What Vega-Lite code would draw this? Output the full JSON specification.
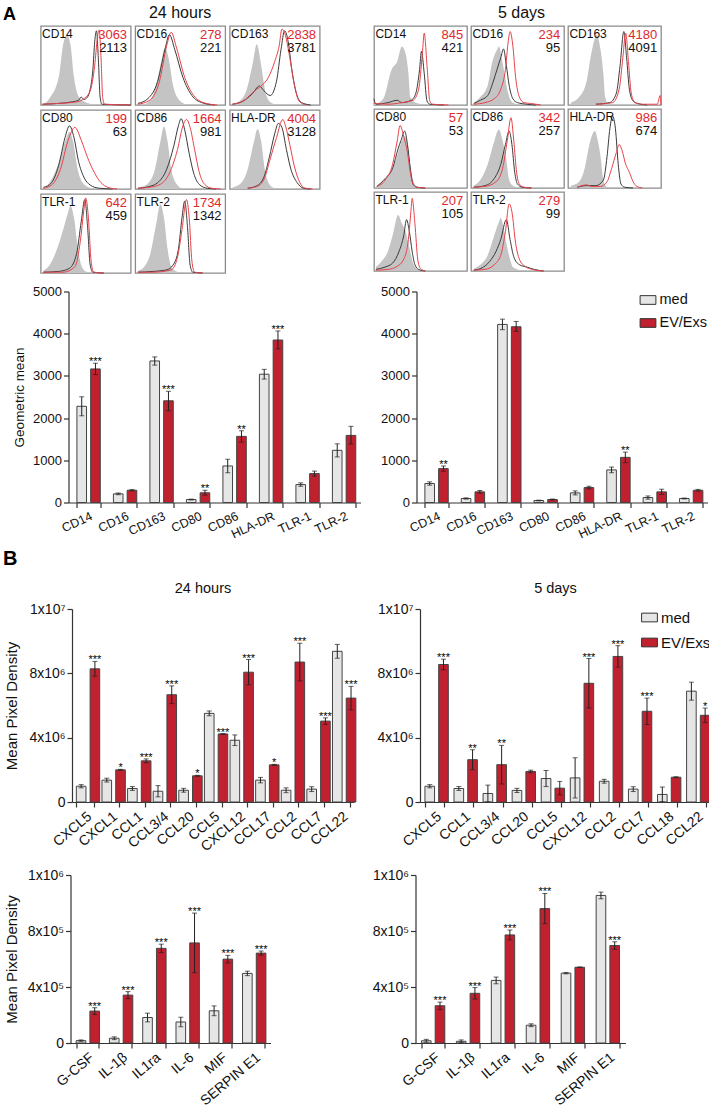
{
"$schema": "https://vega.github.io/schema/vega-lite/v6.json",
"background": "white",
"padding": {"left": 3, "top": 5, "right": 0, "bottom": 0},
"config": {
 "font": "Liberation Sans",
 "view": {"stroke": null},
 "title": {"fontWeight": "normal", "color": "#111"},
 "headerFacet": {"labels": false, "title": null, "labelPadding": 0, "titlePadding": 0},
 "axis": {"grid": false, "domainColor": "#333", "tickColor": "#333", "labelColor": "#111", "titleColor": "#111", "titleFontWeight": "normal", "tickSize": 5, "labelPadding": 2, "domainWidth": 1.2, "tickWidth": 1.2},
 "legend": {"title": null, "orient": "top-right", "offset": 0, "symbolType": "M-1,-0.55H1V0.55H-1Z", "symbolSize": 250, "symbolStrokeColor": "#333", "symbolStrokeWidth": 1, "labelFontSize": 14.5, "rowPadding": 8, "labelOffset": 3, "labelColor": "#111"}
},
"datasets": {
 "hist": [
{"t":"24h","m":"CD14","s":"lab","r":"3063","b":"2113"},
{"t":"24h","m":"CD16","s":"lab","r":"278","b":"221"},
{"t":"24h","m":"CD163","s":"lab","r":"2838","b":"3781"},
{"t":"24h","m":"CD80","s":"lab","r":"199","b":"63"},
{"t":"24h","m":"CD86","s":"lab","r":"1664","b":"981"},
{"t":"24h","m":"HLA-DR","s":"lab","r":"4004","b":"3128"},
{"t":"24h","m":"TLR-1","s":"lab","r":"642","b":"459"},
{"t":"24h","m":"TLR-2","s":"lab","r":"1734","b":"1342"},
{"t":"5d","m":"CD14","s":"lab","r":"845","b":"421"},
{"t":"5d","m":"CD16","s":"lab","r":"234","b":"95"},
{"t":"5d","m":"CD163","s":"lab","r":"4180","b":"4091"},
{"t":"5d","m":"CD80","s":"lab","r":"57","b":"53"},
{"t":"5d","m":"CD86","s":"lab","r":"342","b":"257"},
{"t":"5d","m":"HLA-DR","s":"lab","r":"986","b":"674"},
{"t":"5d","m":"TLR-1","s":"lab","r":"207","b":"105"},
{"t":"5d","m":"TLR-2","s":"lab","r":"279","b":"99"},
{"t":"24h","m":"CD14","s":"i","x":0,"y":0},{"t":"24h","m":"CD14","s":"i","x":3,"y":1},{"t":"24h","m":"CD14","s":"i","x":10,"y":9},{"t":"24h","m":"CD14","s":"i","x":20,"y":35},{"t":"24h","m":"CD14","s":"i","x":25,"y":77},{"t":"24h","m":"CD14","s":"i","x":29,"y":89},{"t":"24h","m":"CD14","s":"i","x":33,"y":77},{"t":"24h","m":"CD14","s":"i","x":37,"y":35},{"t":"24h","m":"CD14","s":"i","x":42,"y":11},{"t":"24h","m":"CD14","s":"i","x":51,"y":3},{"t":"24h","m":"CD14","s":"i","x":66,"y":0},
{"t":"24h","m":"CD14","s":"k","x":2,"y":1},{"t":"24h","m":"CD14","s":"k","x":20,"y":2},{"t":"24h","m":"CD14","s":"k","x":35,"y":4},{"t":"24h","m":"CD14","s":"k","x":42,"y":6},{"t":"24h","m":"CD14","s":"k","x":45,"y":10},{"t":"24h","m":"CD14","s":"k","x":48,"y":7},{"t":"24h","m":"CD14","s":"k","x":52,"y":10},{"t":"24h","m":"CD14","s":"k","x":55,"y":20},{"t":"24h","m":"CD14","s":"k","x":58,"y":45},{"t":"24h","m":"CD14","s":"k","x":60,"y":80},{"t":"24h","m":"CD14","s":"k","x":62,"y":94},{"t":"24h","m":"CD14","s":"k","x":64,"y":60},{"t":"24h","m":"CD14","s":"k","x":66,"y":10},{"t":"24h","m":"CD14","s":"k","x":68,"y":1},{"t":"24h","m":"CD14","s":"k","x":100,"y":0},
{"t":"24h","m":"CD14","s":"r","x":2,"y":1},{"t":"24h","m":"CD14","s":"r","x":20,"y":2},{"t":"24h","m":"CD14","s":"r","x":40,"y":4},{"t":"24h","m":"CD14","s":"r","x":48,"y":8},{"t":"24h","m":"CD14","s":"r","x":55,"y":18},{"t":"24h","m":"CD14","s":"r","x":60,"y":50},{"t":"24h","m":"CD14","s":"r","x":63,"y":85},{"t":"24h","m":"CD14","s":"r","x":65,"y":95},{"t":"24h","m":"CD14","s":"r","x":67,"y":60},{"t":"24h","m":"CD14","s":"r","x":69,"y":8},{"t":"24h","m":"CD14","s":"r","x":71,"y":1},{"t":"24h","m":"CD14","s":"r","x":100,"y":0},
{"t":"24h","m":"CD16","s":"i","x":7,"y":0},{"t":"24h","m":"CD16","s":"i","x":15,"y":4},{"t":"24h","m":"CD16","s":"i","x":22,"y":20},{"t":"24h","m":"CD16","s":"i","x":29,"y":55},{"t":"24h","m":"CD16","s":"i","x":33,"y":73},{"t":"24h","m":"CD16","s":"i","x":37,"y":60},{"t":"24h","m":"CD16","s":"i","x":42,"y":25},{"t":"24h","m":"CD16","s":"i","x":50,"y":5},{"t":"24h","m":"CD16","s":"i","x":59,"y":0},
{"t":"24h","m":"CD16","s":"k","x":3,"y":2},{"t":"24h","m":"CD16","s":"k","x":14,"y":8},{"t":"24h","m":"CD16","s":"k","x":25,"y":30},{"t":"24h","m":"CD16","s":"k","x":33,"y":70},{"t":"24h","m":"CD16","s":"k","x":38,"y":89},{"t":"24h","m":"CD16","s":"k","x":44,"y":70},{"t":"24h","m":"CD16","s":"k","x":53,"y":35},{"t":"24h","m":"CD16","s":"k","x":63,"y":12},{"t":"24h","m":"CD16","s":"k","x":74,"y":3},{"t":"24h","m":"CD16","s":"k","x":88,"y":0},
{"t":"24h","m":"CD16","s":"r","x":3,"y":1},{"t":"24h","m":"CD16","s":"r","x":16,"y":6},{"t":"24h","m":"CD16","s":"r","x":27,"y":30},{"t":"24h","m":"CD16","s":"r","x":35,"y":75},{"t":"24h","m":"CD16","s":"r","x":40,"y":92},{"t":"24h","m":"CD16","s":"r","x":46,"y":72},{"t":"24h","m":"CD16","s":"r","x":55,"y":35},{"t":"24h","m":"CD16","s":"r","x":65,"y":12},{"t":"24h","m":"CD16","s":"r","x":76,"y":3},{"t":"24h","m":"CD16","s":"r","x":91,"y":0},
{"t":"24h","m":"CD163","s":"i","x":4,"y":2},{"t":"24h","m":"CD163","s":"i","x":12,"y":6},{"t":"24h","m":"CD163","s":"i","x":19,"y":20},{"t":"24h","m":"CD163","s":"i","x":26,"y":55},{"t":"24h","m":"CD163","s":"i","x":30,"y":77},{"t":"24h","m":"CD163","s":"i","x":35,"y":50},{"t":"24h","m":"CD163","s":"i","x":40,"y":15},{"t":"24h","m":"CD163","s":"i","x":46,"y":3},{"t":"24h","m":"CD163","s":"i","x":55,"y":0},
{"t":"24h","m":"CD163","s":"k","x":3,"y":1},{"t":"24h","m":"CD163","s":"k","x":15,"y":5},{"t":"24h","m":"CD163","s":"k","x":25,"y":14},{"t":"24h","m":"CD163","s":"k","x":33,"y":24},{"t":"24h","m":"CD163","s":"k","x":38,"y":18},{"t":"24h","m":"CD163","s":"k","x":45,"y":12},{"t":"24h","m":"CD163","s":"k","x":52,"y":30},{"t":"24h","m":"CD163","s":"k","x":57,"y":70},{"t":"24h","m":"CD163","s":"k","x":61,"y":94},{"t":"24h","m":"CD163","s":"k","x":65,"y":80},{"t":"24h","m":"CD163","s":"k","x":69,"y":45},{"t":"24h","m":"CD163","s":"k","x":74,"y":15},{"t":"24h","m":"CD163","s":"k","x":80,"y":3},{"t":"24h","m":"CD163","s":"k","x":90,"y":0},
{"t":"24h","m":"CD163","s":"r","x":3,"y":1},{"t":"24h","m":"CD163","s":"r","x":15,"y":5},{"t":"24h","m":"CD163","s":"r","x":25,"y":15},{"t":"24h","m":"CD163","s":"r","x":30,"y":20},{"t":"24h","m":"CD163","s":"r","x":36,"y":25},{"t":"24h","m":"CD163","s":"r","x":43,"y":35},{"t":"24h","m":"CD163","s":"r","x":50,"y":55},{"t":"24h","m":"CD163","s":"r","x":55,"y":75},{"t":"24h","m":"CD163","s":"r","x":58,"y":96},{"t":"24h","m":"CD163","s":"r","x":62,"y":88},{"t":"24h","m":"CD163","s":"r","x":66,"y":65},{"t":"24h","m":"CD163","s":"r","x":72,"y":25},{"t":"24h","m":"CD163","s":"r","x":77,"y":5},{"t":"24h","m":"CD163","s":"r","x":85,"y":0},
{"t":"24h","m":"CD80","s":"i","x":3,"y":0},{"t":"24h","m":"CD80","s":"i","x":8,"y":5},{"t":"24h","m":"CD80","s":"i","x":19,"y":30},{"t":"24h","m":"CD80","s":"i","x":27,"y":60},{"t":"24h","m":"CD80","s":"i","x":32,"y":72},{"t":"24h","m":"CD80","s":"i","x":36,"y":60},{"t":"24h","m":"CD80","s":"i","x":41,"y":25},{"t":"24h","m":"CD80","s":"i","x":49,"y":5},{"t":"24h","m":"CD80","s":"i","x":60,"y":0},
{"t":"24h","m":"CD80","s":"k","x":3,"y":2},{"t":"24h","m":"CD80","s":"k","x":12,"y":8},{"t":"24h","m":"CD80","s":"k","x":20,"y":30},{"t":"24h","m":"CD80","s":"k","x":27,"y":65},{"t":"24h","m":"CD80","s":"k","x":32,"y":80},{"t":"24h","m":"CD80","s":"k","x":37,"y":65},{"t":"24h","m":"CD80","s":"k","x":42,"y":35},{"t":"24h","m":"CD80","s":"k","x":48,"y":15},{"t":"24h","m":"CD80","s":"k","x":55,"y":5},{"t":"24h","m":"CD80","s":"k","x":65,"y":1},{"t":"24h","m":"CD80","s":"k","x":80,"y":0},
{"t":"24h","m":"CD80","s":"r","x":3,"y":1},{"t":"24h","m":"CD80","s":"r","x":12,"y":5},{"t":"24h","m":"CD80","s":"r","x":22,"y":25},{"t":"24h","m":"CD80","s":"r","x":30,"y":60},{"t":"24h","m":"CD80","s":"r","x":38,"y":78},{"t":"24h","m":"CD80","s":"r","x":45,"y":62},{"t":"24h","m":"CD80","s":"r","x":52,"y":40},{"t":"24h","m":"CD80","s":"r","x":60,"y":20},{"t":"24h","m":"CD80","s":"r","x":67,"y":8},{"t":"24h","m":"CD80","s":"r","x":75,"y":2},{"t":"24h","m":"CD80","s":"r","x":85,"y":0},
{"t":"24h","m":"CD86","s":"i","x":5,"y":2},{"t":"24h","m":"CD86","s":"i","x":15,"y":8},{"t":"24h","m":"CD86","s":"i","x":22,"y":25},{"t":"24h","m":"CD86","s":"i","x":28,"y":60},{"t":"24h","m":"CD86","s":"i","x":32,"y":79},{"t":"24h","m":"CD86","s":"i","x":36,"y":60},{"t":"24h","m":"CD86","s":"i","x":40,"y":25},{"t":"24h","m":"CD86","s":"i","x":45,"y":8},{"t":"24h","m":"CD86","s":"i","x":52,"y":1},{"t":"24h","m":"CD86","s":"i","x":60,"y":0},
{"t":"24h","m":"CD86","s":"k","x":3,"y":1},{"t":"24h","m":"CD86","s":"k","x":15,"y":3},{"t":"24h","m":"CD86","s":"k","x":25,"y":8},{"t":"24h","m":"CD86","s":"k","x":35,"y":25},{"t":"24h","m":"CD86","s":"k","x":43,"y":55},{"t":"24h","m":"CD86","s":"k","x":48,"y":80},{"t":"24h","m":"CD86","s":"k","x":51,"y":89},{"t":"24h","m":"CD86","s":"k","x":55,"y":75},{"t":"24h","m":"CD86","s":"k","x":60,"y":45},{"t":"24h","m":"CD86","s":"k","x":65,"y":20},{"t":"24h","m":"CD86","s":"k","x":72,"y":5},{"t":"24h","m":"CD86","s":"k","x":80,"y":1},{"t":"24h","m":"CD86","s":"k","x":90,"y":0},
{"t":"24h","m":"CD86","s":"r","x":3,"y":1},{"t":"24h","m":"CD86","s":"r","x":15,"y":2},{"t":"24h","m":"CD86","s":"r","x":28,"y":6},{"t":"24h","m":"CD86","s":"r","x":38,"y":20},{"t":"24h","m":"CD86","s":"r","x":47,"y":50},{"t":"24h","m":"CD86","s":"r","x":53,"y":80},{"t":"24h","m":"CD86","s":"r","x":57,"y":88},{"t":"24h","m":"CD86","s":"r","x":61,"y":78},{"t":"24h","m":"CD86","s":"r","x":66,"y":50},{"t":"24h","m":"CD86","s":"r","x":71,"y":22},{"t":"24h","m":"CD86","s":"r","x":77,"y":6},{"t":"24h","m":"CD86","s":"r","x":85,"y":1},{"t":"24h","m":"CD86","s":"r","x":95,"y":0},
{"t":"24h","m":"HLA-DR","s":"i","x":3,"y":2},{"t":"24h","m":"HLA-DR","s":"i","x":13,"y":8},{"t":"24h","m":"HLA-DR","s":"i","x":20,"y":25},{"t":"24h","m":"HLA-DR","s":"i","x":27,"y":60},{"t":"24h","m":"HLA-DR","s":"i","x":31,"y":76},{"t":"24h","m":"HLA-DR","s":"i","x":35,"y":60},{"t":"24h","m":"HLA-DR","s":"i","x":39,"y":25},{"t":"24h","m":"HLA-DR","s":"i","x":44,"y":6},{"t":"24h","m":"HLA-DR","s":"i","x":50,"y":1},{"t":"24h","m":"HLA-DR","s":"i","x":58,"y":0},
{"t":"24h","m":"HLA-DR","s":"k","x":20,"y":1},{"t":"24h","m":"HLA-DR","s":"k","x":30,"y":4},{"t":"24h","m":"HLA-DR","s":"k","x":38,"y":15},{"t":"24h","m":"HLA-DR","s":"k","x":44,"y":40},{"t":"24h","m":"HLA-DR","s":"k","x":50,"y":70},{"t":"24h","m":"HLA-DR","s":"k","x":54,"y":83},{"t":"24h","m":"HLA-DR","s":"k","x":58,"y":78},{"t":"24h","m":"HLA-DR","s":"k","x":63,"y":50},{"t":"24h","m":"HLA-DR","s":"k","x":68,"y":25},{"t":"24h","m":"HLA-DR","s":"k","x":75,"y":8},{"t":"24h","m":"HLA-DR","s":"k","x":82,"y":1},{"t":"24h","m":"HLA-DR","s":"k","x":90,"y":0},
{"t":"24h","m":"HLA-DR","s":"r","x":20,"y":1},{"t":"24h","m":"HLA-DR","s":"r","x":30,"y":3},{"t":"24h","m":"HLA-DR","s":"r","x":38,"y":12},{"t":"24h","m":"HLA-DR","s":"r","x":45,"y":38},{"t":"24h","m":"HLA-DR","s":"r","x":52,"y":65},{"t":"24h","m":"HLA-DR","s":"r","x":59,"y":88},{"t":"24h","m":"HLA-DR","s":"r","x":62,"y":80},{"t":"24h","m":"HLA-DR","s":"r","x":67,"y":55},{"t":"24h","m":"HLA-DR","s":"r","x":72,"y":28},{"t":"24h","m":"HLA-DR","s":"r","x":78,"y":8},{"t":"24h","m":"HLA-DR","s":"r","x":84,"y":1},{"t":"24h","m":"HLA-DR","s":"r","x":92,"y":0},
{"t":"24h","m":"TLR-1","s":"i","x":3,"y":3},{"t":"24h","m":"TLR-1","s":"i","x":10,"y":10},{"t":"24h","m":"TLR-1","s":"i","x":18,"y":30},{"t":"24h","m":"TLR-1","s":"i","x":25,"y":55},{"t":"24h","m":"TLR-1","s":"i","x":30,"y":75},{"t":"24h","m":"TLR-1","s":"i","x":33,"y":85},{"t":"24h","m":"TLR-1","s":"i","x":37,"y":70},{"t":"24h","m":"TLR-1","s":"i","x":41,"y":35},{"t":"24h","m":"TLR-1","s":"i","x":45,"y":10},{"t":"24h","m":"TLR-1","s":"i","x":50,"y":2},{"t":"24h","m":"TLR-1","s":"i","x":58,"y":0},
{"t":"24h","m":"TLR-1","s":"k","x":3,"y":1},{"t":"24h","m":"TLR-1","s":"k","x":20,"y":2},{"t":"24h","m":"TLR-1","s":"k","x":32,"y":6},{"t":"24h","m":"TLR-1","s":"k","x":40,"y":25},{"t":"24h","m":"TLR-1","s":"k","x":45,"y":65},{"t":"24h","m":"TLR-1","s":"k","x":49,"y":93},{"t":"24h","m":"TLR-1","s":"k","x":52,"y":60},{"t":"24h","m":"TLR-1","s":"k","x":55,"y":10},{"t":"24h","m":"TLR-1","s":"k","x":58,"y":1},{"t":"24h","m":"TLR-1","s":"k","x":70,"y":0},
{"t":"24h","m":"TLR-1","s":"r","x":3,"y":1},{"t":"24h","m":"TLR-1","s":"r","x":25,"y":1},{"t":"24h","m":"TLR-1","s":"r","x":38,"y":8},{"t":"24h","m":"TLR-1","s":"r","x":44,"y":40},{"t":"24h","m":"TLR-1","s":"r","x":48,"y":80},{"t":"24h","m":"TLR-1","s":"r","x":50,"y":95},{"t":"24h","m":"TLR-1","s":"r","x":53,"y":70},{"t":"24h","m":"TLR-1","s":"r","x":56,"y":15},{"t":"24h","m":"TLR-1","s":"r","x":59,"y":1},{"t":"24h","m":"TLR-1","s":"r","x":70,"y":0},
{"t":"24h","m":"TLR-2","s":"i","x":3,"y":3},{"t":"24h","m":"TLR-2","s":"i","x":10,"y":8},{"t":"24h","m":"TLR-2","s":"i","x":17,"y":25},{"t":"24h","m":"TLR-2","s":"i","x":23,"y":60},{"t":"24h","m":"TLR-2","s":"i","x":28,"y":87},{"t":"24h","m":"TLR-2","s":"i","x":32,"y":70},{"t":"24h","m":"TLR-2","s":"i","x":36,"y":30},{"t":"24h","m":"TLR-2","s":"i","x":40,"y":8},{"t":"24h","m":"TLR-2","s":"i","x":46,"y":2},{"t":"24h","m":"TLR-2","s":"i","x":55,"y":0},
{"t":"24h","m":"TLR-2","s":"k","x":3,"y":1},{"t":"24h","m":"TLR-2","s":"k","x":20,"y":2},{"t":"24h","m":"TLR-2","s":"k","x":35,"y":4},{"t":"24h","m":"TLR-2","s":"k","x":42,"y":10},{"t":"24h","m":"TLR-2","s":"k","x":48,"y":30},{"t":"24h","m":"TLR-2","s":"k","x":52,"y":70},{"t":"24h","m":"TLR-2","s":"k","x":55,"y":91},{"t":"24h","m":"TLR-2","s":"k","x":58,"y":60},{"t":"24h","m":"TLR-2","s":"k","x":61,"y":10},{"t":"24h","m":"TLR-2","s":"k","x":64,"y":1},{"t":"24h","m":"TLR-2","s":"k","x":75,"y":0},
{"t":"24h","m":"TLR-2","s":"r","x":3,"y":1},{"t":"24h","m":"TLR-2","s":"r","x":20,"y":1},{"t":"24h","m":"TLR-2","s":"r","x":40,"y":4},{"t":"24h","m":"TLR-2","s":"r","x":47,"y":20},{"t":"24h","m":"TLR-2","s":"r","x":52,"y":55},{"t":"24h","m":"TLR-2","s":"r","x":57,"y":93},{"t":"24h","m":"TLR-2","s":"r","x":60,"y":70},{"t":"24h","m":"TLR-2","s":"r","x":63,"y":15},{"t":"24h","m":"TLR-2","s":"r","x":66,"y":1},{"t":"24h","m":"TLR-2","s":"r","x":75,"y":0},
{"t":"5d","m":"CD14","s":"i","x":0,"y":10},{"t":"5d","m":"CD14","s":"i","x":2,"y":2},{"t":"5d","m":"CD14","s":"i","x":10,"y":8},{"t":"5d","m":"CD14","s":"i","x":19,"y":45},{"t":"5d","m":"CD14","s":"i","x":25,"y":55},{"t":"5d","m":"CD14","s":"i","x":30,"y":74},{"t":"5d","m":"CD14","s":"i","x":34,"y":65},{"t":"5d","m":"CD14","s":"i","x":37,"y":40},{"t":"5d","m":"CD14","s":"i","x":39,"y":10},{"t":"5d","m":"CD14","s":"i","x":45,"y":3},{"t":"5d","m":"CD14","s":"i","x":60,"y":0},
{"t":"5d","m":"CD14","s":"k","x":0,"y":8},{"t":"5d","m":"CD14","s":"k","x":2,"y":1},{"t":"5d","m":"CD14","s":"k","x":15,"y":3},{"t":"5d","m":"CD14","s":"k","x":25,"y":6},{"t":"5d","m":"CD14","s":"k","x":30,"y":3},{"t":"5d","m":"CD14","s":"k","x":40,"y":6},{"t":"5d","m":"CD14","s":"k","x":45,"y":15},{"t":"5d","m":"CD14","s":"k","x":49,"y":45},{"t":"5d","m":"CD14","s":"k","x":51,"y":68},{"t":"5d","m":"CD14","s":"k","x":54,"y":40},{"t":"5d","m":"CD14","s":"k","x":57,"y":5},{"t":"5d","m":"CD14","s":"k","x":60,"y":1},{"t":"5d","m":"CD14","s":"k","x":75,"y":0},
{"t":"5d","m":"CD14","s":"r","x":0,"y":2},{"t":"5d","m":"CD14","s":"r","x":15,"y":1},{"t":"5d","m":"CD14","s":"r","x":30,"y":3},{"t":"5d","m":"CD14","s":"r","x":42,"y":6},{"t":"5d","m":"CD14","s":"r","x":48,"y":20},{"t":"5d","m":"CD14","s":"r","x":52,"y":65},{"t":"5d","m":"CD14","s":"r","x":54,"y":91},{"t":"5d","m":"CD14","s":"r","x":57,"y":50},{"t":"5d","m":"CD14","s":"r","x":60,"y":5},{"t":"5d","m":"CD14","s":"r","x":63,"y":1},{"t":"5d","m":"CD14","s":"r","x":80,"y":0},
{"t":"5d","m":"CD16","s":"i","x":3,"y":3},{"t":"5d","m":"CD16","s":"i","x":10,"y":10},{"t":"5d","m":"CD16","s":"i","x":18,"y":25},{"t":"5d","m":"CD16","s":"i","x":23,"y":55},{"t":"5d","m":"CD16","s":"i","x":28,"y":70},{"t":"5d","m":"CD16","s":"i","x":30,"y":74},{"t":"5d","m":"CD16","s":"i","x":33,"y":60},{"t":"5d","m":"CD16","s":"i","x":36,"y":40},{"t":"5d","m":"CD16","s":"i","x":40,"y":15},{"t":"5d","m":"CD16","s":"i","x":45,"y":3},{"t":"5d","m":"CD16","s":"i","x":55,"y":0},
{"t":"5d","m":"CD16","s":"k","x":3,"y":2},{"t":"5d","m":"CD16","s":"k","x":10,"y":6},{"t":"5d","m":"CD16","s":"k","x":18,"y":12},{"t":"5d","m":"CD16","s":"k","x":24,"y":30},{"t":"5d","m":"CD16","s":"k","x":28,"y":45},{"t":"5d","m":"CD16","s":"k","x":32,"y":60},{"t":"5d","m":"CD16","s":"k","x":35,"y":71},{"t":"5d","m":"CD16","s":"k","x":38,"y":50},{"t":"5d","m":"CD16","s":"k","x":41,"y":25},{"t":"5d","m":"CD16","s":"k","x":45,"y":8},{"t":"5d","m":"CD16","s":"k","x":50,"y":3},{"t":"5d","m":"CD16","s":"k","x":60,"y":1},{"t":"5d","m":"CD16","s":"k","x":70,"y":0},
{"t":"5d","m":"CD16","s":"r","x":3,"y":1},{"t":"5d","m":"CD16","s":"r","x":15,"y":3},{"t":"5d","m":"CD16","s":"r","x":25,"y":8},{"t":"5d","m":"CD16","s":"r","x":32,"y":20},{"t":"5d","m":"CD16","s":"r","x":37,"y":45},{"t":"5d","m":"CD16","s":"r","x":40,"y":80},{"t":"5d","m":"CD16","s":"r","x":42,"y":93},{"t":"5d","m":"CD16","s":"r","x":45,"y":75},{"t":"5d","m":"CD16","s":"r","x":48,"y":35},{"t":"5d","m":"CD16","s":"r","x":52,"y":10},{"t":"5d","m":"CD16","s":"r","x":57,"y":3},{"t":"5d","m":"CD16","s":"r","x":64,"y":2},{"t":"5d","m":"CD16","s":"r","x":75,"y":0},
{"t":"5d","m":"CD163","s":"i","x":3,"y":3},{"t":"5d","m":"CD163","s":"i","x":12,"y":10},{"t":"5d","m":"CD163","s":"i","x":20,"y":30},{"t":"5d","m":"CD163","s":"i","x":25,"y":65},{"t":"5d","m":"CD163","s":"i","x":31,"y":89},{"t":"5d","m":"CD163","s":"i","x":35,"y":70},{"t":"5d","m":"CD163","s":"i","x":38,"y":40},{"t":"5d","m":"CD163","s":"i","x":40,"y":10},{"t":"5d","m":"CD163","s":"i","x":43,"y":2},{"t":"5d","m":"CD163","s":"i","x":50,"y":0},
{"t":"5d","m":"CD163","s":"k","x":30,"y":1},{"t":"5d","m":"CD163","s":"k","x":45,"y":3},{"t":"5d","m":"CD163","s":"k","x":52,"y":15},{"t":"5d","m":"CD163","s":"k","x":56,"y":50},{"t":"5d","m":"CD163","s":"k","x":60,"y":93},{"t":"5d","m":"CD163","s":"k","x":63,"y":60},{"t":"5d","m":"CD163","s":"k","x":66,"y":20},{"t":"5d","m":"CD163","s":"k","x":70,"y":5},{"t":"5d","m":"CD163","s":"k","x":75,"y":2},{"t":"5d","m":"CD163","s":"k","x":85,"y":0},
{"t":"5d","m":"CD163","s":"r","x":30,"y":1},{"t":"5d","m":"CD163","s":"r","x":48,"y":3},{"t":"5d","m":"CD163","s":"r","x":55,"y":20},{"t":"5d","m":"CD163","s":"r","x":59,"y":60},{"t":"5d","m":"CD163","s":"r","x":62,"y":91},{"t":"5d","m":"CD163","s":"r","x":65,"y":55},{"t":"5d","m":"CD163","s":"r","x":68,"y":15},{"t":"5d","m":"CD163","s":"r","x":72,"y":3},{"t":"5d","m":"CD163","s":"r","x":80,"y":1},{"t":"5d","m":"CD163","s":"r","x":96,"y":1},{"t":"5d","m":"CD163","s":"r","x":99,"y":12},{"t":"5d","m":"CD163","s":"r","x":100,"y":0},
{"t":"5d","m":"CD80","s":"i","x":3,"y":3},{"t":"5d","m":"CD80","s":"i","x":12,"y":10},{"t":"5d","m":"CD80","s":"i","x":20,"y":25},{"t":"5d","m":"CD80","s":"i","x":26,"y":45},{"t":"5d","m":"CD80","s":"i","x":30,"y":60},{"t":"5d","m":"CD80","s":"i","x":33,"y":66},{"t":"5d","m":"CD80","s":"i","x":36,"y":55},{"t":"5d","m":"CD80","s":"i","x":39,"y":30},{"t":"5d","m":"CD80","s":"i","x":42,"y":10},{"t":"5d","m":"CD80","s":"i","x":46,"y":2},{"t":"5d","m":"CD80","s":"i","x":55,"y":0},
{"t":"5d","m":"CD80","s":"k","x":3,"y":2},{"t":"5d","m":"CD80","s":"k","x":12,"y":12},{"t":"5d","m":"CD80","s":"k","x":20,"y":25},{"t":"5d","m":"CD80","s":"k","x":26,"y":50},{"t":"5d","m":"CD80","s":"k","x":29,"y":60},{"t":"5d","m":"CD80","s":"k","x":33,"y":72},{"t":"5d","m":"CD80","s":"k","x":36,"y":55},{"t":"5d","m":"CD80","s":"k","x":39,"y":25},{"t":"5d","m":"CD80","s":"k","x":42,"y":5},{"t":"5d","m":"CD80","s":"k","x":46,"y":1},{"t":"5d","m":"CD80","s":"k","x":55,"y":0},
{"t":"5d","m":"CD80","s":"r","x":3,"y":2},{"t":"5d","m":"CD80","s":"r","x":12,"y":10},{"t":"5d","m":"CD80","s":"r","x":20,"y":30},{"t":"5d","m":"CD80","s":"r","x":25,"y":60},{"t":"5d","m":"CD80","s":"r","x":28,"y":79},{"t":"5d","m":"CD80","s":"r","x":32,"y":65},{"t":"5d","m":"CD80","s":"r","x":36,"y":45},{"t":"5d","m":"CD80","s":"r","x":39,"y":20},{"t":"5d","m":"CD80","s":"r","x":42,"y":5},{"t":"5d","m":"CD80","s":"r","x":46,"y":1},{"t":"5d","m":"CD80","s":"r","x":55,"y":0},
{"t":"5d","m":"CD86","s":"i","x":3,"y":3},{"t":"5d","m":"CD86","s":"i","x":10,"y":10},{"t":"5d","m":"CD86","s":"i","x":18,"y":30},{"t":"5d","m":"CD86","s":"i","x":24,"y":55},{"t":"5d","m":"CD86","s":"i","x":30,"y":74},{"t":"5d","m":"CD86","s":"i","x":34,"y":60},{"t":"5d","m":"CD86","s":"i","x":38,"y":35},{"t":"5d","m":"CD86","s":"i","x":41,"y":10},{"t":"5d","m":"CD86","s":"i","x":45,"y":3},{"t":"5d","m":"CD86","s":"i","x":55,"y":0},
{"t":"5d","m":"CD86","s":"k","x":3,"y":1},{"t":"5d","m":"CD86","s":"k","x":15,"y":3},{"t":"5d","m":"CD86","s":"k","x":25,"y":12},{"t":"5d","m":"CD86","s":"k","x":32,"y":30},{"t":"5d","m":"CD86","s":"k","x":37,"y":55},{"t":"5d","m":"CD86","s":"k","x":41,"y":72},{"t":"5d","m":"CD86","s":"k","x":44,"y":55},{"t":"5d","m":"CD86","s":"k","x":47,"y":20},{"t":"5d","m":"CD86","s":"k","x":50,"y":5},{"t":"5d","m":"CD86","s":"k","x":55,"y":1},{"t":"5d","m":"CD86","s":"k","x":65,"y":0},
{"t":"5d","m":"CD86","s":"r","x":3,"y":1},{"t":"5d","m":"CD86","s":"r","x":15,"y":2},{"t":"5d","m":"CD86","s":"r","x":27,"y":8},{"t":"5d","m":"CD86","s":"r","x":34,"y":25},{"t":"5d","m":"CD86","s":"r","x":39,"y":60},{"t":"5d","m":"CD86","s":"r","x":43,"y":89},{"t":"5d","m":"CD86","s":"r","x":46,"y":60},{"t":"5d","m":"CD86","s":"r","x":49,"y":20},{"t":"5d","m":"CD86","s":"r","x":52,"y":5},{"t":"5d","m":"CD86","s":"r","x":57,"y":1},{"t":"5d","m":"CD86","s":"r","x":65,"y":0},
{"t":"5d","m":"HLA-DR","s":"i","x":3,"y":3},{"t":"5d","m":"HLA-DR","s":"i","x":12,"y":8},{"t":"5d","m":"HLA-DR","s":"i","x":18,"y":25},{"t":"5d","m":"HLA-DR","s":"i","x":23,"y":55},{"t":"5d","m":"HLA-DR","s":"i","x":29,"y":72},{"t":"5d","m":"HLA-DR","s":"i","x":32,"y":60},{"t":"5d","m":"HLA-DR","s":"i","x":35,"y":40},{"t":"5d","m":"HLA-DR","s":"i","x":38,"y":10},{"t":"5d","m":"HLA-DR","s":"i","x":41,"y":2},{"t":"5d","m":"HLA-DR","s":"i","x":50,"y":0},
{"t":"5d","m":"HLA-DR","s":"k","x":10,"y":1},{"t":"5d","m":"HLA-DR","s":"k","x":20,"y":3},{"t":"5d","m":"HLA-DR","s":"k","x":30,"y":3},{"t":"5d","m":"HLA-DR","s":"k","x":38,"y":10},{"t":"5d","m":"HLA-DR","s":"k","x":42,"y":40},{"t":"5d","m":"HLA-DR","s":"k","x":45,"y":75},{"t":"5d","m":"HLA-DR","s":"k","x":48,"y":91},{"t":"5d","m":"HLA-DR","s":"k","x":51,"y":75},{"t":"5d","m":"HLA-DR","s":"k","x":54,"y":30},{"t":"5d","m":"HLA-DR","s":"k","x":57,"y":5},{"t":"5d","m":"HLA-DR","s":"k","x":61,"y":1},{"t":"5d","m":"HLA-DR","s":"k","x":70,"y":0},
{"t":"5d","m":"HLA-DR","s":"r","x":10,"y":1},{"t":"5d","m":"HLA-DR","s":"r","x":20,"y":4},{"t":"5d","m":"HLA-DR","s":"r","x":25,"y":2},{"t":"5d","m":"HLA-DR","s":"r","x":35,"y":2},{"t":"5d","m":"HLA-DR","s":"r","x":42,"y":8},{"t":"5d","m":"HLA-DR","s":"r","x":47,"y":25},{"t":"5d","m":"HLA-DR","s":"r","x":52,"y":45},{"t":"5d","m":"HLA-DR","s":"r","x":55,"y":55},{"t":"5d","m":"HLA-DR","s":"r","x":58,"y":48},{"t":"5d","m":"HLA-DR","s":"r","x":62,"y":30},{"t":"5d","m":"HLA-DR","s":"r","x":66,"y":20},{"t":"5d","m":"HLA-DR","s":"r","x":70,"y":8},{"t":"5d","m":"HLA-DR","s":"r","x":74,"y":2},{"t":"5d","m":"HLA-DR","s":"r","x":80,"y":0},
{"t":"5d","m":"TLR-1","s":"i","x":2,"y":5},{"t":"5d","m":"TLR-1","s":"i","x":8,"y":12},{"t":"5d","m":"TLR-1","s":"i","x":15,"y":25},{"t":"5d","m":"TLR-1","s":"i","x":20,"y":45},{"t":"5d","m":"TLR-1","s":"i","x":26,"y":71},{"t":"5d","m":"TLR-1","s":"i","x":30,"y":60},{"t":"5d","m":"TLR-1","s":"i","x":34,"y":50},{"t":"5d","m":"TLR-1","s":"i","x":38,"y":30},{"t":"5d","m":"TLR-1","s":"i","x":42,"y":10},{"t":"5d","m":"TLR-1","s":"i","x":46,"y":3},{"t":"5d","m":"TLR-1","s":"i","x":55,"y":0},
{"t":"5d","m":"TLR-1","s":"k","x":2,"y":2},{"t":"5d","m":"TLR-1","s":"k","x":12,"y":5},{"t":"5d","m":"TLR-1","s":"k","x":20,"y":10},{"t":"5d","m":"TLR-1","s":"k","x":27,"y":25},{"t":"5d","m":"TLR-1","s":"k","x":32,"y":45},{"t":"5d","m":"TLR-1","s":"k","x":35,"y":65},{"t":"5d","m":"TLR-1","s":"k","x":38,"y":50},{"t":"5d","m":"TLR-1","s":"k","x":41,"y":25},{"t":"5d","m":"TLR-1","s":"k","x":44,"y":8},{"t":"5d","m":"TLR-1","s":"k","x":48,"y":2},{"t":"5d","m":"TLR-1","s":"k","x":55,"y":0},
{"t":"5d","m":"TLR-1","s":"r","x":2,"y":1},{"t":"5d","m":"TLR-1","s":"r","x":15,"y":2},{"t":"5d","m":"TLR-1","s":"r","x":25,"y":6},{"t":"5d","m":"TLR-1","s":"r","x":32,"y":15},{"t":"5d","m":"TLR-1","s":"r","x":37,"y":40},{"t":"5d","m":"TLR-1","s":"r","x":40,"y":80},{"t":"5d","m":"TLR-1","s":"r","x":41,"y":92},{"t":"5d","m":"TLR-1","s":"r","x":44,"y":60},{"t":"5d","m":"TLR-1","s":"r","x":47,"y":15},{"t":"5d","m":"TLR-1","s":"r","x":50,"y":3},{"t":"5d","m":"TLR-1","s":"r","x":55,"y":0},
{"t":"5d","m":"TLR-2","s":"i","x":3,"y":3},{"t":"5d","m":"TLR-2","s":"i","x":10,"y":8},{"t":"5d","m":"TLR-2","s":"i","x":18,"y":20},{"t":"5d","m":"TLR-2","s":"i","x":25,"y":45},{"t":"5d","m":"TLR-2","s":"i","x":30,"y":62},{"t":"5d","m":"TLR-2","s":"i","x":32,"y":67},{"t":"5d","m":"TLR-2","s":"i","x":35,"y":55},{"t":"5d","m":"TLR-2","s":"i","x":38,"y":35},{"t":"5d","m":"TLR-2","s":"i","x":42,"y":15},{"t":"5d","m":"TLR-2","s":"i","x":45,"y":5},{"t":"5d","m":"TLR-2","s":"i","x":50,"y":2},{"t":"5d","m":"TLR-2","s":"i","x":60,"y":0},
{"t":"5d","m":"TLR-2","s":"k","x":3,"y":1},{"t":"5d","m":"TLR-2","s":"k","x":12,"y":4},{"t":"5d","m":"TLR-2","s":"k","x":20,"y":12},{"t":"5d","m":"TLR-2","s":"k","x":27,"y":25},{"t":"5d","m":"TLR-2","s":"k","x":32,"y":40},{"t":"5d","m":"TLR-2","s":"k","x":38,"y":65},{"t":"5d","m":"TLR-2","s":"k","x":42,"y":40},{"t":"5d","m":"TLR-2","s":"k","x":46,"y":18},{"t":"5d","m":"TLR-2","s":"k","x":52,"y":8},{"t":"5d","m":"TLR-2","s":"k","x":60,"y":5},{"t":"5d","m":"TLR-2","s":"k","x":68,"y":2},{"t":"5d","m":"TLR-2","s":"k","x":78,"y":0},
{"t":"5d","m":"TLR-2","s":"r","x":3,"y":1},{"t":"5d","m":"TLR-2","s":"r","x":15,"y":2},{"t":"5d","m":"TLR-2","s":"r","x":25,"y":8},{"t":"5d","m":"TLR-2","s":"r","x":32,"y":20},{"t":"5d","m":"TLR-2","s":"r","x":37,"y":50},{"t":"5d","m":"TLR-2","s":"r","x":41,"y":85},{"t":"5d","m":"TLR-2","s":"r","x":44,"y":75},{"t":"5d","m":"TLR-2","s":"r","x":48,"y":35},{"t":"5d","m":"TLR-2","s":"r","x":52,"y":15},{"t":"5d","m":"TLR-2","s":"r","x":58,"y":6},{"t":"5d","m":"TLR-2","s":"r","x":66,"y":2},{"t":"5d","m":"TLR-2","s":"r","x":78,"y":0}
 ],
 "geo": [
{"t":"24h","m":"CD14","g":"med","v":2280,"lo":2055,"hi":2505,"st":""},
{"t":"24h","m":"CD14","g":"EV/Exs","v":3165,"lo":3030,"hi":3300,"st":"***"},
{"t":"24h","m":"CD16","g":"med","v":205,"lo":185,"hi":225,"st":""},
{"t":"24h","m":"CD16","g":"EV/Exs","v":290,"lo":275,"hi":305,"st":""},
{"t":"24h","m":"CD163","g":"med","v":3354,"lo":3255,"hi":3450,"st":""},
{"t":"24h","m":"CD163","g":"EV/Exs","v":2410,"lo":2175,"hi":2635,"st":"***"},
{"t":"24h","m":"CD80","g":"med","v":70,"lo":60,"hi":80,"st":""},
{"t":"24h","m":"CD80","g":"EV/Exs","v":230,"lo":175,"hi":290,"st":"**"},
{"t":"24h","m":"CD86","g":"med","v":866,"lo":705,"hi":1025,"st":""},
{"t":"24h","m":"CD86","g":"EV/Exs","v":1567,"lo":1430,"hi":1700,"st":"**"},
{"t":"24h","m":"HLA-DR","g":"med","v":3040,"lo":2925,"hi":3155,"st":""},
{"t":"24h","m":"HLA-DR","g":"EV/Exs","v":3850,"lo":3640,"hi":4065,"st":"***"},
{"t":"24h","m":"TLR-1","g":"med","v":425,"lo":385,"hi":465,"st":""},
{"t":"24h","m":"TLR-1","g":"EV/Exs","v":685,"lo":625,"hi":745,"st":""},
{"t":"24h","m":"TLR-2","g":"med","v":1236,"lo":1080,"hi":1390,"st":""},
{"t":"24h","m":"TLR-2","g":"EV/Exs","v":1590,"lo":1385,"hi":1805,"st":""},
{"t":"5d","m":"CD14","g":"med","v":450,"lo":410,"hi":490,"st":""},
{"t":"5d","m":"CD14","g":"EV/Exs","v":803,"lo":740,"hi":865,"st":"**"},
{"t":"5d","m":"CD16","g":"med","v":95,"lo":80,"hi":110,"st":""},
{"t":"5d","m":"CD16","g":"EV/Exs","v":252,"lo":220,"hi":285,"st":""},
{"t":"5d","m":"CD163","g":"med","v":4220,"lo":4095,"hi":4345,"st":""},
{"t":"5d","m":"CD163","g":"EV/Exs","v":4165,"lo":4055,"hi":4290,"st":""},
{"t":"5d","m":"CD80","g":"med","v":47,"lo":40,"hi":55,"st":""},
{"t":"5d","m":"CD80","g":"EV/Exs","v":71,"lo":60,"hi":82,"st":""},
{"t":"5d","m":"CD86","g":"med","v":228,"lo":180,"hi":275,"st":""},
{"t":"5d","m":"CD86","g":"EV/Exs","v":354,"lo":325,"hi":385,"st":""},
{"t":"5d","m":"HLA-DR","g":"med","v":772,"lo":705,"hi":840,"st":""},
{"t":"5d","m":"HLA-DR","g":"EV/Exs","v":1070,"lo":945,"hi":1195,"st":"**"},
{"t":"5d","m":"TLR-1","g":"med","v":118,"lo":80,"hi":155,"st":""},
{"t":"5d","m":"TLR-1","g":"EV/Exs","v":252,"lo":190,"hi":315,"st":""},
{"t":"5d","m":"TLR-2","g":"med","v":95,"lo":85,"hi":105,"st":""},
{"t":"5d","m":"TLR-2","g":"EV/Exs","v":290,"lo":270,"hi":310,"st":""}
 ],
 "chem": [
{"t":"24h","m":"CXCL5","g":"med","v":980000,"lo":880000,"hi":1080000,"st":""},
{"t":"24h","m":"CXCL5","g":"EV/Exs","v":8280000,"lo":7820000,"hi":8740000,"st":"***"},
{"t":"24h","m":"CXCL1","g":"med","v":1360000,"lo":1240000,"hi":1480000,"st":""},
{"t":"24h","m":"CXCL1","g":"EV/Exs","v":2000000,"lo":1970000,"hi":2030000,"st":"*"},
{"t":"24h","m":"CCL1","g":"med","v":840000,"lo":720000,"hi":960000,"st":""},
{"t":"24h","m":"CCL1","g":"EV/Exs","v":2560000,"lo":2440000,"hi":2680000,"st":"***"},
{"t":"24h","m":"CCL3/4","g":"med","v":670000,"lo":320000,"hi":1020000,"st":""},
{"t":"24h","m":"CCL3/4","g":"EV/Exs","v":6670000,"lo":6120000,"hi":7220000,"st":"***"},
{"t":"24h","m":"CCL20","g":"med","v":730000,"lo":610000,"hi":850000,"st":""},
{"t":"24h","m":"CCL20","g":"EV/Exs","v":1630000,"lo":1600000,"hi":1660000,"st":"*"},
{"t":"24h","m":"CCL5","g":"med","v":5510000,"lo":5360000,"hi":5660000,"st":""},
{"t":"24h","m":"CCL5","g":"EV/Exs","v":4230000,"lo":4210000,"hi":4250000,"st":"***"},
{"t":"24h","m":"CXCL12","g":"med","v":3840000,"lo":3510000,"hi":4170000,"st":""},
{"t":"24h","m":"CXCL12","g":"EV/Exs","v":8070000,"lo":7280000,"hi":8860000,"st":"***"},
{"t":"24h","m":"CCL17","g":"med","v":1360000,"lo":1190000,"hi":1530000,"st":""},
{"t":"24h","m":"CCL17","g":"EV/Exs","v":2310000,"lo":2280000,"hi":2340000,"st":"*"},
{"t":"24h","m":"CCL2","g":"med","v":730000,"lo":580000,"hi":880000,"st":""},
{"t":"24h","m":"CCL2","g":"EV/Exs","v":8700000,"lo":7530000,"hi":9870000,"st":"***"},
{"t":"24h","m":"CCL7","g":"med","v":800000,"lo":650000,"hi":950000,"st":""},
{"t":"24h","m":"CCL7","g":"EV/Exs","v":5030000,"lo":4830000,"hi":5230000,"st":"***"},
{"t":"24h","m":"CCL22","g":"med","v":9370000,"lo":8940000,"hi":9800000,"st":""},
{"t":"24h","m":"CCL22","g":"EV/Exs","v":6460000,"lo":5730000,"hi":7190000,"st":"***"},
{"t":"5d","m":"CXCL5","g":"med","v":980000,"lo":880000,"hi":1080000,"st":""},
{"t":"5d","m":"CXCL5","g":"EV/Exs","v":8550000,"lo":8220000,"hi":8880000,"st":"***"},
{"t":"5d","m":"CCL1","g":"med","v":840000,"lo":720000,"hi":960000,"st":""},
{"t":"5d","m":"CCL1","g":"EV/Exs","v":2630000,"lo":2010000,"hi":3250000,"st":"**"},
{"t":"5d","m":"CCL3/4","g":"med","v":530000,"lo":10000,"hi":1050000,"st":""},
{"t":"5d","m":"CCL3/4","g":"EV/Exs","v":2320000,"lo":1120000,"hi":3520000,"st":"**"},
{"t":"5d","m":"CCL20","g":"med","v":720000,"lo":590000,"hi":850000,"st":""},
{"t":"5d","m":"CCL20","g":"EV/Exs","v":1900000,"lo":1820000,"hi":1980000,"st":""},
{"t":"5d","m":"CCL5","g":"med","v":1460000,"lo":960000,"hi":1960000,"st":""},
{"t":"5d","m":"CCL5","g":"EV/Exs","v":860000,"lo":440000,"hi":1280000,"st":""},
{"t":"5d","m":"CXCL12","g":"med","v":1500000,"lo":250000,"hi":2750000,"st":""},
{"t":"5d","m":"CXCL12","g":"EV/Exs","v":7380000,"lo":5840000,"hi":8920000,"st":"***"},
{"t":"5d","m":"CCL2","g":"med","v":1290000,"lo":1170000,"hi":1410000,"st":""},
{"t":"5d","m":"CCL2","g":"EV/Exs","v":9050000,"lo":8380000,"hi":9720000,"st":"***"},
{"t":"5d","m":"CCL7","g":"med","v":800000,"lo":650000,"hi":950000,"st":""},
{"t":"5d","m":"CCL7","g":"EV/Exs","v":5640000,"lo":4820000,"hi":6460000,"st":"***"},
{"t":"5d","m":"CCL18","g":"med","v":470000,"lo":10000,"hi":930000,"st":""},
{"t":"5d","m":"CCL18","g":"EV/Exs","v":1540000,"lo":1510000,"hi":1570000,"st":""},
{"t":"5d","m":"CCL22","g":"med","v":6890000,"lo":6330000,"hi":7450000,"st":""},
{"t":"5d","m":"CCL22","g":"EV/Exs","v":5390000,"lo":4940000,"hi":5840000,"st":"*"}
 ],
 "cyto": [
{"t":"24h","m":"G-CSF","g":"med","v":17000,"lo":12000,"hi":22000,"st":""},
{"t":"24h","m":"G-CSF","g":"EV/Exs","v":228000,"lo":204000,"hi":252000,"st":"***"},
{"t":"24h","m":"IL-1β","g":"med","v":34000,"lo":24000,"hi":44000,"st":""},
{"t":"24h","m":"IL-1β","g":"EV/Exs","v":342000,"lo":317000,"hi":367000,"st":"***"},
{"t":"24h","m":"IL1ra","g":"med","v":182000,"lo":151000,"hi":213000,"st":""},
{"t":"24h","m":"IL1ra","g":"EV/Exs","v":676000,"lo":646000,"hi":706000,"st":"***"},
{"t":"24h","m":"IL-6","g":"med","v":150000,"lo":116000,"hi":184000,"st":""},
{"t":"24h","m":"IL-6","g":"EV/Exs","v":715000,"lo":502000,"hi":928000,"st":"***"},
{"t":"24h","m":"MIF","g":"med","v":230000,"lo":195000,"hi":265000,"st":""},
{"t":"24h","m":"MIF","g":"EV/Exs","v":599000,"lo":572000,"hi":626000,"st":"***"},
{"t":"24h","m":"SERPIN E1","g":"med","v":497000,"lo":481000,"hi":513000,"st":""},
{"t":"24h","m":"SERPIN E1","g":"EV/Exs","v":642000,"lo":627000,"hi":657000,"st":"***"},
{"t":"5d","m":"G-CSF","g":"med","v":16000,"lo":6000,"hi":26000,"st":""},
{"t":"5d","m":"G-CSF","g":"EV/Exs","v":266000,"lo":240000,"hi":292000,"st":"***"},
{"t":"5d","m":"IL-1β","g":"med","v":12000,"lo":2000,"hi":22000,"st":""},
{"t":"5d","m":"IL-1β","g":"EV/Exs","v":355000,"lo":314000,"hi":396000,"st":"***"},
{"t":"5d","m":"IL1ra","g":"med","v":447000,"lo":423000,"hi":471000,"st":""},
{"t":"5d","m":"IL1ra","g":"EV/Exs","v":772000,"lo":737000,"hi":807000,"st":"***"},
{"t":"5d","m":"IL-6","g":"med","v":127000,"lo":117000,"hi":137000,"st":""},
{"t":"5d","m":"IL-6","g":"EV/Exs","v":960000,"lo":852000,"hi":1068000,"st":"***"},
{"t":"5d","m":"MIF","g":"med","v":499000,"lo":494000,"hi":504000,"st":""},
{"t":"5d","m":"MIF","g":"EV/Exs","v":541000,"lo":539000,"hi":543000,"st":""},
{"t":"5d","m":"SERPIN E1","g":"med","v":1054000,"lo":1030000,"hi":1078000,"st":""},
{"t":"5d","m":"SERPIN E1","g":"EV/Exs","v":696000,"lo":669000,"hi":723000,"st":"***"}
 ]
},
"resolve": {"scale": {"fill": "independent"}, "legend": {"fill": "independent"}},
"spacing": 7,
"vconcat": [
 {
  "resolve": {"scale": {"fill": "independent"}, "legend": {"fill": "independent"}},
  "spacing": 9.5,
  "vconcat": [
   {
    "spacing": 50,
    "hconcat": [
     {
      "spacing": 23.7,
      "hconcat": [
       {"width": 1, "height": 1, "title": {"text": "A", "anchor": "start", "fontSize": 18, "fontWeight": "bold", "offset": 2, "color": "#000"}, "data": {"values": []}, "mark": "point", "encoding": {}},
       {
        "data": {"name": "hist"},
        "transform": [{"filter": "datum.t === '24h'"}],
        "title": {"text": "24 hours", "fontSize": 16, "offset": 4, "anchor": "middle"},
        "facet": {"field": "m", "type": "nominal", "sort": ["CD14","CD16","CD163","CD80","CD86","HLA-DR","TLR-1","TLR-2"], "header": {"labels": false, "title": null, "labelPadding": 0, "labelFontSize": 0.1, "labelExpr": "''"}},
        "columns": 3,
        "spacing": {"row": 1, "column": 0.5},
        "spec": {
         "width": 90, "height": 79,
         "view": {"stroke": "#8c8c8c", "strokeWidth": 1.3},
         "layer": [
          {"transform": [{"filter": "datum.s === 'i'"}], "mark": {"type": "area", "color": "#c4c4c4", "interpolate": "monotone"}, "encoding": {"x": {"field": "x", "type": "quantitative", "scale": {"domain": [0, 100]}, "axis": null}, "y": {"field": "y", "type": "quantitative", "scale": {"domain": [0, 100]}, "axis": null}}},
          {"transform": [{"filter": "datum.s === 'k'"}], "mark": {"type": "line", "color": "#3a3a3a", "strokeWidth": 1, "interpolate": "monotone"}, "encoding": {"x": {"field": "x", "type": "quantitative", "scale": {"domain": [0, 100]}, "axis": null}, "y": {"field": "y", "type": "quantitative", "scale": {"domain": [0, 100]}, "axis": null}}},
          {"transform": [{"filter": "datum.s === 'r'"}], "mark": {"type": "line", "color": "#e8424a", "strokeWidth": 1, "interpolate": "monotone"}, "encoding": {"x": {"field": "x", "type": "quantitative", "scale": {"domain": [0, 100]}, "axis": null}, "y": {"field": "y", "type": "quantitative", "scale": {"domain": [0, 100]}, "axis": null}}},
          {"transform": [{"filter": "datum.s === 'lab'"}], "mark": {"type": "text", "align": "left", "baseline": "top", "fontSize": 12, "color": "#111"}, "encoding": {"x": {"datum": 1.5, "type": "quantitative", "axis": null}, "y": {"datum": 96, "type": "quantitative", "axis": null}, "text": {"field": "m"}}},
          {"transform": [{"filter": "datum.s === 'lab'"}], "mark": {"type": "text", "align": "right", "baseline": "top", "fontSize": 13, "color": "#e0282e"}, "encoding": {"x": {"datum": 96, "type": "quantitative", "axis": null}, "y": {"datum": 96, "type": "quantitative", "axis": null}, "text": {"field": "r"}}},
          {"transform": [{"filter": "datum.s === 'lab'"}], "mark": {"type": "text", "align": "right", "baseline": "top", "fontSize": 13, "color": "#111"}, "encoding": {"x": {"datum": 96, "type": "quantitative", "axis": null}, "y": {"datum": 80, "type": "quantitative", "axis": null}, "text": {"field": "b"}}}
         ]
        }
       }
      ]
     },
     {
      "data": {"name": "hist"},
      "transform": [{"filter": "datum.t === '5d'"}],
      "title": {"text": "5 days", "fontSize": 16, "offset": 4, "anchor": "middle", "dx": 4},
      "facet": {"field": "m", "type": "nominal", "sort": ["CD14","CD16","CD163","CD80","CD86","HLA-DR","TLR-1","TLR-2"], "header": {"labels": false, "title": null, "labelPadding": 0, "labelFontSize": 0.1, "labelExpr": "''"}},
      "columns": 3,
      "spacing": {"row": 0, "column": 0},
      "spec": {
       "width": 93, "height": 79,
       "view": {"stroke": "#8c8c8c", "strokeWidth": 1.3},
       "layer": [
        {"transform": [{"filter": "datum.s === 'i'"}], "mark": {"type": "area", "color": "#c4c4c4", "interpolate": "monotone"}, "encoding": {"x": {"field": "x", "type": "quantitative", "scale": {"domain": [0, 100]}, "axis": null}, "y": {"field": "y", "type": "quantitative", "scale": {"domain": [0, 100]}, "axis": null}}},
        {"transform": [{"filter": "datum.s === 'k'"}], "mark": {"type": "line", "color": "#3a3a3a", "strokeWidth": 1, "interpolate": "monotone"}, "encoding": {"x": {"field": "x", "type": "quantitative", "scale": {"domain": [0, 100]}, "axis": null}, "y": {"field": "y", "type": "quantitative", "scale": {"domain": [0, 100]}, "axis": null}}},
        {"transform": [{"filter": "datum.s === 'r'"}], "mark": {"type": "line", "color": "#e8424a", "strokeWidth": 1, "interpolate": "monotone"}, "encoding": {"x": {"field": "x", "type": "quantitative", "scale": {"domain": [0, 100]}, "axis": null}, "y": {"field": "y", "type": "quantitative", "scale": {"domain": [0, 100]}, "axis": null}}},
        {"transform": [{"filter": "datum.s === 'lab'"}], "mark": {"type": "text", "align": "left", "baseline": "top", "fontSize": 12, "color": "#111"}, "encoding": {"x": {"datum": 1.5, "type": "quantitative", "axis": null}, "y": {"datum": 96, "type": "quantitative", "axis": null}, "text": {"field": "m"}}},
        {"transform": [{"filter": "datum.s === 'lab'"}], "mark": {"type": "text", "align": "right", "baseline": "top", "fontSize": 13, "color": "#e0282e"}, "encoding": {"x": {"datum": 96, "type": "quantitative", "axis": null}, "y": {"datum": 96, "type": "quantitative", "axis": null}, "text": {"field": "r"}}},
        {"transform": [{"filter": "datum.s === 'lab'"}], "mark": {"type": "text", "align": "right", "baseline": "top", "fontSize": 13, "color": "#111"}, "encoding": {"x": {"datum": 96, "type": "quantitative", "axis": null}, "y": {"datum": 80, "type": "quantitative", "axis": null}, "text": {"field": "b"}}}
       ]
      }
     }
    ]
   },
   {
    "spacing": 8.5,
    "resolve": {"scale": {"fill": "independent"}, "legend": {"fill": "independent"}},
    "hconcat": [
     {"width": 1, "height": 1, "data": {"values": []}, "mark": "point", "encoding": {}},
     {
      "spacing": 20,
      "resolve": {"scale": {"fill": "independent"}, "legend": {"fill": "independent"}},
      "hconcat": [
       {
        "width": 292, "height": 211,
        "data": {"name": "geo"},
        "transform": [{"filter": "datum.t === '24h'"}],
        "encoding": {
         "x": {"field": "m", "type": "nominal", "sort": ["CD14","CD16","CD163","CD80","CD86","HLA-DR","TLR-1","TLR-2"], "scale": {"paddingInner": 0.36, "paddingOuter": 0.18, "align": 0.64}, "axis": {"title": null, "labelAngle": -25, "labelFontSize": 12.5, "tickBand": "extent"}},
         "xOffset": {"field": "g", "type": "nominal", "sort": ["med", "EV/Exs"], "scale": {"paddingInner": 0.3, "paddingOuter": 0}}
        },
        "layer": [
         {"mark": {"type": "bar", "stroke": "#444", "strokeWidth": 1}, "encoding": {"y": {"field": "v", "type": "quantitative", "scale": {"domain": [0, 5000], "nice": false}, "axis": {"values": [0,1000,2000,3000,4000,5000], "format": "d", "title": "Geometric mean", "titleFontSize": 13.5, "labelFontSize": 13, "titlePadding": 6}}, "fill": {"field": "g", "type": "nominal", "scale": {"domain": ["med", "EV/Exs"], "range": ["#e6e6e6", "#c1202f"]}, "legend": null}}},
         {"mark": {"type": "rule", "color": "#222", "strokeWidth": 1}, "encoding": {"y": {"field": "lo", "type": "quantitative", "scale": {"domain": [0, 5000], "nice": false}}, "y2": {"field": "hi"}}},
         {"mark": {"type": "tick", "color": "#222", "size": 5, "thickness": 1}, "encoding": {"y": {"field": "hi", "type": "quantitative", "scale": {"domain": [0, 5000], "nice": false}}}},
         {"mark": {"type": "tick", "color": "#222", "size": 5, "thickness": 1}, "encoding": {"y": {"field": "lo", "type": "quantitative", "scale": {"domain": [0, 5000], "nice": false}}}},
         {"transform": [{"filter": "datum.st !== ''"}], "mark": {"type": "text", "fontSize": 11, "baseline": "alphabetic", "dy": 2, "fill": "#000"}, "encoding": {"y": {"field": "hi", "type": "quantitative", "scale": {"domain": [0, 5000], "nice": false}}, "text": {"field": "st"}}}
        ]
       },
       {
        "width": 291, "height": 211,
        "data": {"name": "geo"},
        "transform": [{"filter": "datum.t === '5d'"}],
        "encoding": {
         "x": {"field": "m", "type": "nominal", "sort": ["CD14","CD16","CD163","CD80","CD86","HLA-DR","TLR-1","TLR-2"], "scale": {"paddingInner": 0.36, "paddingOuter": 0.18, "align": 0.64}, "axis": {"title": null, "labelAngle": -25, "labelFontSize": 12.5, "tickBand": "extent"}},
         "xOffset": {"field": "g", "type": "nominal", "sort": ["med", "EV/Exs"], "scale": {"paddingInner": 0.3, "paddingOuter": 0}}
        },
        "layer": [
         {"mark": {"type": "bar", "stroke": "#444", "strokeWidth": 1}, "encoding": {"y": {"field": "v", "type": "quantitative", "scale": {"domain": [0, 5000], "nice": false}, "axis": {"values": [0,1000,2000,3000,4000,5000], "format": "d", "title": null, "labelFontSize": 13}}, "fill": {"field": "g", "type": "nominal", "scale": {"domain": ["med", "EV/Exs"], "range": ["#e6e6e6", "#c1202f"]}, "legend": {"orient": "top-right", "offset": 0}}}},
         {"mark": {"type": "rule", "color": "#222", "strokeWidth": 1}, "encoding": {"y": {"field": "lo", "type": "quantitative", "scale": {"domain": [0, 5000], "nice": false}}, "y2": {"field": "hi"}}},
         {"mark": {"type": "tick", "color": "#222", "size": 5, "thickness": 1}, "encoding": {"y": {"field": "hi", "type": "quantitative", "scale": {"domain": [0, 5000], "nice": false}}}},
         {"mark": {"type": "tick", "color": "#222", "size": 5, "thickness": 1}, "encoding": {"y": {"field": "lo", "type": "quantitative", "scale": {"domain": [0, 5000], "nice": false}}}},
         {"transform": [{"filter": "datum.st !== ''"}], "mark": {"type": "text", "fontSize": 11, "baseline": "alphabetic", "dy": 2, "fill": "#000"}, "encoding": {"y": {"field": "hi", "type": "quantitative", "scale": {"domain": [0, 5000], "nice": false}}, "text": {"field": "st"}}}
        ]
       }
      ]
     }
    ]
   }
  ]
 },
 {
  "title": {"text": "B", "anchor": "start", "fontSize": 20, "fontWeight": "bold", "offset": 12, "color": "#000"},
  "spacing": 14,
  "resolve": {"scale": {"fill": "independent"}, "legend": {"fill": "independent"}},
  "vconcat": [
   {
    "spacing": 0,
    "resolve": {"scale": {"fill": "independent"}, "legend": {"fill": "independent"}},
    "hconcat": [
     {"width": 1, "height": 1, "data": {"values": []}, "mark": "point", "encoding": {}},
     {
      "spacing": 18,
      "resolve": {"scale": {"fill": "independent"}, "legend": {"fill": "independent"}},
      "hconcat": [
       {
        "width": 282, "height": 193,
        "title": {"text": "24 hours", "fontSize": 14.5, "offset": 6, "dx": -10},
        "data": {"name": "chem"},
        "transform": [{"filter": "datum.t === '24h'"}],
        "encoding": {
         "x": {"field": "m", "type": "nominal", "sort": ["CXCL5","CXCL1","CCL1","CCL3/4","CCL20","CCL5","CXCL12","CCL17","CCL2","CCL7","CCL22"], "scale": {"paddingInner": 0.33, "paddingOuter": 0.17}, "axis": {"title": null, "labelAngle": -40, "labelFontSize": 14, "tickBand": "extent"}},
         "xOffset": {"field": "g", "type": "nominal", "sort": ["med", "EV/Exs"], "scale": {"paddingInner": 0.33, "paddingOuter": 0}}
        },
        "layer": [
         {"mark": {"type": "bar", "stroke": "#444", "strokeWidth": 1}, "encoding": {"y": {"field": "v", "type": "quantitative", "scale": {"domain": [0, 12000000], "nice": false}, "axis": {"values": [0,4000000,8000000,12000000], "labelExpr": "datum.value === 0 ? '0' : datum.value === 4000000 ? '4x10⁶' : datum.value === 8000000 ? '8x10⁶' : '1x10⁷'", "title": "Mean Pixel Density", "titleFontSize": 15, "labelFontSize": 14, "titlePadding": 9.5}}, "fill": {"field": "g", "type": "nominal", "scale": {"domain": ["med", "EV/Exs"], "range": ["#e6e6e6", "#c1202f"]}, "legend": null}}},
         {"mark": {"type": "rule", "color": "#222", "strokeWidth": 1}, "encoding": {"y": {"field": "lo", "type": "quantitative", "scale": {"domain": [0, 12000000], "nice": false}}, "y2": {"field": "hi"}}},
         {"mark": {"type": "tick", "color": "#222", "size": 5, "thickness": 1}, "encoding": {"y": {"field": "hi", "type": "quantitative", "scale": {"domain": [0, 12000000], "nice": false}}}},
         {"mark": {"type": "tick", "color": "#222", "size": 5, "thickness": 1}, "encoding": {"y": {"field": "lo", "type": "quantitative", "scale": {"domain": [0, 12000000], "nice": false}}}},
         {"transform": [{"filter": "datum.st !== ''"}], "mark": {"type": "text", "fontSize": 11, "baseline": "alphabetic", "dy": 2, "fill": "#000"}, "encoding": {"y": {"field": "hi", "type": "quantitative", "scale": {"domain": [0, 12000000], "nice": false}}, "text": {"field": "st"}}}
        ]
       },
       {
        "width": 291, "height": 193,
        "title": {"text": "5 days", "fontSize": 14.5, "offset": 6, "dx": -10},
        "data": {"name": "chem"},
        "transform": [{"filter": "datum.t === '5d'"}],
        "encoding": {
         "x": {"field": "m", "type": "nominal", "sort": ["CXCL5","CCL1","CCL3/4","CCL20","CCL5","CXCL12","CCL2","CCL7","CCL18","CCL22"], "scale": {"paddingInner": 0.33, "paddingOuter": 0.17}, "axis": {"title": null, "labelAngle": -40, "labelFontSize": 14, "tickBand": "extent"}},
         "xOffset": {"field": "g", "type": "nominal", "sort": ["med", "EV/Exs"], "scale": {"paddingInner": 0.33, "paddingOuter": 0}}
        },
        "layer": [
         {"mark": {"type": "bar", "stroke": "#444", "strokeWidth": 1}, "encoding": {"y": {"field": "v", "type": "quantitative", "scale": {"domain": [0, 12000000], "nice": false}, "axis": {"values": [0,4000000,8000000,12000000], "labelExpr": "datum.value === 0 ? '0' : datum.value === 4000000 ? '4x10⁶' : datum.value === 8000000 ? '8x10⁶' : '1x10⁷'", "title": null, "labelFontSize": 14}}, "fill": {"field": "g", "type": "nominal", "scale": {"domain": ["med", "EV/Exs"], "range": ["#e6e6e6", "#c1202f"]}, "legend": {"orient": "top-right", "offset": 0, "labelFontSize": 15}}}},
         {"mark": {"type": "rule", "color": "#222", "strokeWidth": 1}, "encoding": {"y": {"field": "lo", "type": "quantitative", "scale": {"domain": [0, 12000000], "nice": false}}, "y2": {"field": "hi"}}},
         {"mark": {"type": "tick", "color": "#222", "size": 5, "thickness": 1}, "encoding": {"y": {"field": "hi", "type": "quantitative", "scale": {"domain": [0, 12000000], "nice": false}}}},
         {"mark": {"type": "tick", "color": "#222", "size": 5, "thickness": 1}, "encoding": {"y": {"field": "lo", "type": "quantitative", "scale": {"domain": [0, 12000000], "nice": false}}}},
         {"transform": [{"filter": "datum.st !== ''"}], "mark": {"type": "text", "fontSize": 11, "baseline": "alphabetic", "dy": 2, "fill": "#000"}, "encoding": {"y": {"field": "hi", "type": "quantitative", "scale": {"domain": [0, 12000000], "nice": false}}, "text": {"field": "st"}}}
        ]
       }
      ]
     }
    ]
   },
   {
    "spacing": 0.5,
    "resolve": {"scale": {"fill": "independent"}, "legend": {"fill": "independent"}},
    "hconcat": [
     {"width": 1, "height": 1, "data": {"values": []}, "mark": "point", "encoding": {}},
     {
      "spacing": 101,
      "resolve": {"scale": {"fill": "independent"}, "legend": {"fill": "independent"}},
      "hconcat": [
       {
        "width": 200, "height": 168,
        "data": {"name": "cyto"},
        "transform": [{"filter": "datum.t === '24h'"}],
        "encoding": {
         "x": {"field": "m", "type": "nominal", "sort": ["G-CSF","IL-1β","IL1ra","IL-6","MIF","SERPIN E1"], "scale": {"paddingInner": 0.33, "paddingOuter": 0.17}, "axis": {"title": null, "labelAngle": -40, "labelFontSize": 14, "tickBand": "extent"}},
         "xOffset": {"field": "g", "type": "nominal", "sort": ["med", "EV/Exs"], "scale": {"paddingInner": 0.33, "paddingOuter": 0}}
        },
        "layer": [
         {"mark": {"type": "bar", "stroke": "#444", "strokeWidth": 1}, "encoding": {"y": {"field": "v", "type": "quantitative", "scale": {"domain": [0, 1200000], "nice": false}, "axis": {"values": [0,400000,800000,1200000], "labelExpr": "datum.value === 0 ? '0' : datum.value === 400000 ? '4x10⁵' : datum.value === 800000 ? '8x10⁵' : '1x10⁶'", "title": "Mean Pixel Density", "titleFontSize": 15, "labelFontSize": 14, "titlePadding": 7.5}}, "fill": {"field": "g", "type": "nominal", "scale": {"domain": ["med", "EV/Exs"], "range": ["#e6e6e6", "#c1202f"]}, "legend": null}}},
         {"mark": {"type": "rule", "color": "#222", "strokeWidth": 1}, "encoding": {"y": {"field": "lo", "type": "quantitative", "scale": {"domain": [0, 1200000], "nice": false}}, "y2": {"field": "hi"}}},
         {"mark": {"type": "tick", "color": "#222", "size": 5, "thickness": 1}, "encoding": {"y": {"field": "hi", "type": "quantitative", "scale": {"domain": [0, 1200000], "nice": false}}}},
         {"mark": {"type": "tick", "color": "#222", "size": 5, "thickness": 1}, "encoding": {"y": {"field": "lo", "type": "quantitative", "scale": {"domain": [0, 1200000], "nice": false}}}},
         {"transform": [{"filter": "datum.st !== ''"}], "mark": {"type": "text", "fontSize": 11, "baseline": "alphabetic", "dy": 2, "fill": "#000"}, "encoding": {"y": {"field": "hi", "type": "quantitative", "scale": {"domain": [0, 1200000], "nice": false}}, "text": {"field": "st"}}}
        ]
       },
       {
        "width": 210, "height": 168,
        "data": {"name": "cyto"},
        "transform": [{"filter": "datum.t === '5d'"}],
        "encoding": {
         "x": {"field": "m", "type": "nominal", "sort": ["G-CSF","IL-1β","IL1ra","IL-6","MIF","SERPIN E1"], "scale": {"paddingInner": 0.33, "paddingOuter": 0.17}, "axis": {"title": null, "labelAngle": -40, "labelFontSize": 14, "tickBand": "extent"}},
         "xOffset": {"field": "g", "type": "nominal", "sort": ["med", "EV/Exs"], "scale": {"paddingInner": 0.33, "paddingOuter": 0}}
        },
        "layer": [
         {"mark": {"type": "bar", "stroke": "#444", "strokeWidth": 1}, "encoding": {"y": {"field": "v", "type": "quantitative", "scale": {"domain": [0, 1200000], "nice": false}, "axis": {"values": [0,400000,800000,1200000], "labelExpr": "datum.value === 0 ? '0' : datum.value === 400000 ? '4x10⁵' : datum.value === 800000 ? '8x10⁵' : '1x10⁶'", "title": null, "labelFontSize": 14}}, "fill": {"field": "g", "type": "nominal", "scale": {"domain": ["med", "EV/Exs"], "range": ["#e6e6e6", "#c1202f"]}, "legend": null}}},
         {"mark": {"type": "rule", "color": "#222", "strokeWidth": 1}, "encoding": {"y": {"field": "lo", "type": "quantitative", "scale": {"domain": [0, 1200000], "nice": false}}, "y2": {"field": "hi"}}},
         {"mark": {"type": "tick", "color": "#222", "size": 5, "thickness": 1}, "encoding": {"y": {"field": "hi", "type": "quantitative", "scale": {"domain": [0, 1200000], "nice": false}}}},
         {"mark": {"type": "tick", "color": "#222", "size": 5, "thickness": 1}, "encoding": {"y": {"field": "lo", "type": "quantitative", "scale": {"domain": [0, 1200000], "nice": false}}}},
         {"transform": [{"filter": "datum.st !== ''"}], "mark": {"type": "text", "fontSize": 11, "baseline": "alphabetic", "dy": 2, "fill": "#000"}, "encoding": {"y": {"field": "hi", "type": "quantitative", "scale": {"domain": [0, 1200000], "nice": false}}, "text": {"field": "st"}}}
        ]
       }
      ]
     }
    ]
   }
  ]
 }
]
}
